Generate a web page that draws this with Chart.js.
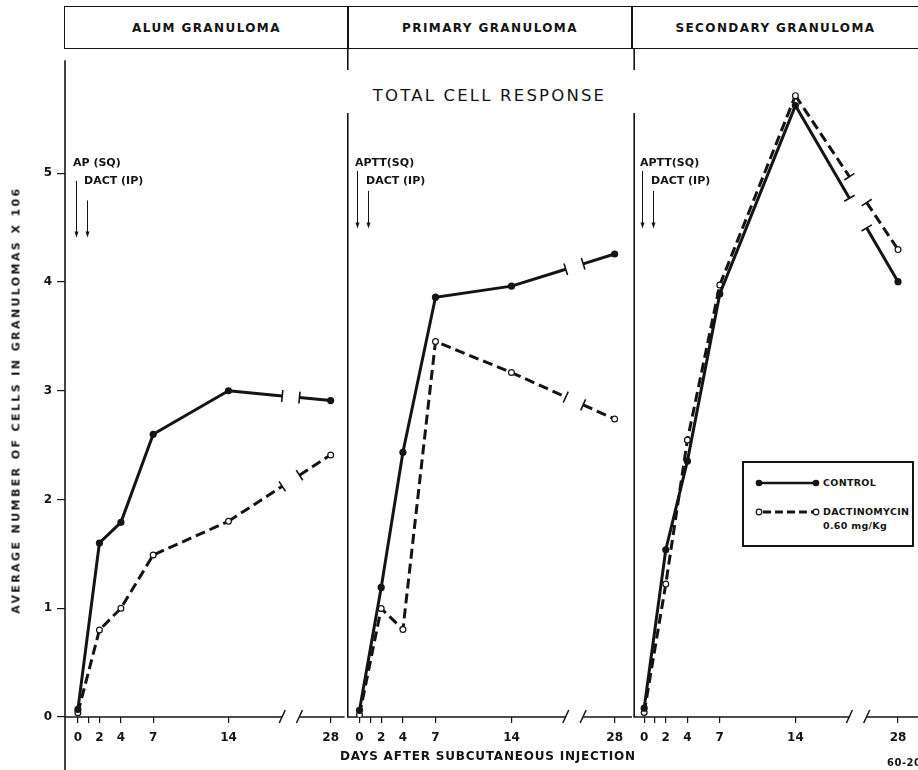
<!DOCTYPE html>
<html>
<head>
<meta charset="utf-8">
<script src="https://cdn.jsdelivr.net/npm/chart.js@4.4.0/dist/chart.umd.min.js"></script>
<style>
html,body{margin:0;padding:0;background:#fff;}
#wrap{position:relative;width:918px;height:770px;overflow:hidden;background:#fff;font-family:"DejaVu Sans",sans-serif;color:#141414;}
canvas{position:absolute;}
.t{position:absolute;white-space:nowrap;font-weight:bold;line-height:1;}
#header{position:absolute;left:64px;top:6px;width:900px;height:41px;border-top:1.5px solid #141414;border-bottom:1.5px solid #141414;border-left:1.5px solid #141414;}
.hcell{position:absolute;top:0;height:41px;display:flex;align-items:center;justify-content:center;font-weight:bold;font-size:12px;letter-spacing:1.4px;}
.vdiv{position:absolute;top:0;width:1.5px;height:41px;background:#141414;}
#title{position:absolute;left:347px;width:285px;top:86px;text-align:center;font-size:16.5px;letter-spacing:2.2px;white-space:nowrap;}
#ytitle{position:absolute;left:16px;top:400px;transform:translate(-50%,-50%) rotate(-90deg);font-weight:bold;font-size:11px;letter-spacing:2.4px;white-space:nowrap;}
#xtitle{position:absolute;left:340px;width:295px;top:749px;text-align:center;font-weight:bold;font-size:12px;letter-spacing:0.8px;white-space:nowrap;}
.ann{font-size:11px;}
#legend{position:absolute;left:742px;top:461px;width:168px;height:82px;border:2px solid #141414;background:#fff;}
#legend svg{position:absolute;left:0;top:0;}
.lt{position:absolute;font-weight:bold;font-size:9.5px;letter-spacing:0.3px;white-space:nowrap;line-height:1;}
</style>
</head>
<body>
<div id="wrap">
  <div id="header">
    <div class="hcell" style="left:0;width:283px;">ALUM GRANULOMA</div>
    <div class="vdiv" style="left:282px;"></div>
    <div class="hcell" style="left:283px;width:284px;">PRIMARY GRANULOMA</div>
    <div class="vdiv" style="left:566px;"></div>
    <div class="hcell" style="left:567px;width:287px;">SECONDARY GRANULOMA</div>
  </div>
  <div id="title">TOTAL CELL RESPONSE</div>

  <canvas id="c1" width="347" height="722" style="left:0;top:48px;"></canvas>
  <canvas id="c2" width="285" height="722" style="left:347px;top:48px;"></canvas>
  <canvas id="c3" width="286" height="722" style="left:632px;top:48px;"></canvas>

  <div id="ytitle">AVERAGE NUMBER OF CELLS IN GRANULOMAS X 106</div>
  <div id="xtitle">DAYS AFTER SUBCUTANEOUS INJECTION</div>
  <div class="t" style="left:887px;top:758px;font-size:10px;letter-spacing:0.5px;">60-20</div>

  <div class="t ann" style="left:73px;top:157px;">AP (SQ)</div>
  <div class="t ann" style="left:84px;top:175px;">DACT (IP)</div>
  <div class="t ann" style="left:355px;top:157px;">APTT(SQ)</div>
  <div class="t ann" style="left:366px;top:175px;">DACT (IP)</div>
  <div class="t ann" style="left:640px;top:157px;">APTT(SQ)</div>
  <div class="t ann" style="left:651px;top:175px;">DACT (IP)</div>

  <div id="legend">
    <svg width="168" height="82">
      <line x1="17" y1="20" x2="71" y2="20" stroke="#141414" stroke-width="2.5"/>
      <circle cx="15" cy="20" r="3.3" fill="#141414"/>
      <circle cx="72" cy="20" r="3.3" fill="#141414"/>
      <line x1="19" y1="49" x2="69" y2="49" stroke="#141414" stroke-width="3" stroke-dasharray="8,4"/>
      <circle cx="15" cy="49" r="2.8" fill="#fff" stroke="#141414" stroke-width="1.2"/>
      <circle cx="72" cy="49" r="2.8" fill="#fff" stroke="#141414" stroke-width="1.2"/>
    </svg>
    <div class="lt" style="left:79px;top:15px;">CONTROL</div>
    <div class="lt" style="left:79px;top:44px;">DACTINOMYCIN</div>
    <div class="lt" style="left:79px;top:58px;">0.60 mg/Kg</div>
  </div>
</div>

<script>
// ---- data ----
const days = [0, 2, 4, 7, 14, 28];
const alumControl      = [0.07, 1.60, 1.79, 2.60, 3.00, 2.91];
const alumDact         = [0.04, 0.80, 1.00, 1.49, 1.80, 2.41];
const primaryControl   = [0.06, 1.17, 2.39, 3.79, 3.89, 4.18];
const primaryDact      = [0.02, 0.98, 0.79, 3.39, 3.11, 2.69];
const secondaryControl = [0.08, 1.51, 2.31, 3.82, 5.52, 3.93];
const secondaryDact    = [0.04, 1.20, 2.50, 3.90, 5.61, 4.22];
const tickDays   = [0, 1, 2, 4, 7, 14, 28];
const tickLabels = ["0", "", "2", "4", "7", "14", "28"];
const yTicks     = [0, 1, 2, 3, 4, 5];

// ---- broken x axis: days after 14 are compressed ----
const BREAK_DAY = 14, COMPRESS = 9.5 / 14;
const BREAK_START = 19.0, BREAK_END = 20.6;
function axisPos(d){ return d <= BREAK_DAY ? d : BREAK_DAY + (d - BREAK_DAY) * COMPRESS; }

const INK = '#141414';
const Y_MAX = 6.04;

const panelPlugin = {
  id: 'panelPlugin',
  beforeDatasetsDraw(chart, args, opts) {
    const {ctx, chartArea: a, scales: {x, y}} = chart;
    const xs = x.getPixelForValue(BREAK_START), xe = x.getPixelForValue(BREAK_END);
    ctx.save();
    ctx.strokeStyle = INK; ctx.fillStyle = INK;
    ctx.lineWidth = 1.5;
    ctx.beginPath();
    ctx.moveTo(a.left, a.bottom); ctx.lineTo(xs, a.bottom);
    ctx.moveTo(xe, a.bottom); ctx.lineTo(a.right, a.bottom);
    ctx.stroke();
    [xs, xe].forEach(px => {
      ctx.beginPath(); ctx.moveTo(px - 3, a.bottom + 6); ctx.lineTo(px + 3, a.bottom - 7); ctx.stroke();
    });
    ctx.lineWidth = 1.6;
    ctx.beginPath();
    if (opts.yAxisLine) {
      ctx.moveTo(a.left, a.top); ctx.lineTo(a.left, chart.height);
    } else {
      ctx.moveTo(a.left + 0.8, a.top); ctx.lineTo(a.left + 0.8, a.top + 22);
      ctx.moveTo(a.left + 0.8, a.top + 65); ctx.lineTo(a.left + 0.8, a.bottom);
    }
    ctx.stroke();
    chart.data.datasets.forEach((ds, i) => {
      const meta = chart.getDatasetMeta(i);
      const n = meta.data.length;
      const p0 = meta.data[n - 2], p1 = meta.data[n - 1];
      const yAt = px => p0.y + (p1.y - p0.y) * (px - p0.x) / (p1.x - p0.x);
      ctx.lineWidth = ds.borderWidth;
      ctx.setLineDash(ds.borderDash || []);
      ctx.beginPath();
      ctx.moveTo(p0.x, p0.y); ctx.lineTo(xs, yAt(xs));
      ctx.moveTo(xe, yAt(xe)); ctx.lineTo(p1.x, p1.y);
      ctx.stroke();
      ctx.setLineDash([]);
      ctx.lineWidth = 1.6;
      const dx = p1.x - p0.x, dy = p1.y - p0.y, L = Math.hypot(dx, dy);
      const nx = -dy / L * 6, ny = dx / L * 6;
      [xs, xe].forEach(px => {
        const py = yAt(px);
        ctx.beginPath(); ctx.moveTo(px - nx, py - ny); ctx.lineTo(px + nx, py + ny); ctx.stroke();
      });
    });
    ctx.restore();
  },
  afterDraw(chart, args, opts) {
    const {ctx, scales: {x, y}} = chart;
    ctx.save();
    ctx.strokeStyle = INK; ctx.fillStyle = INK; ctx.lineWidth = 1;
    (opts.arrows || []).forEach(ar => {
      const px = Math.round(x.getPixelForValue(ar.day)) - 1.5;
      const top = y.getPixelForValue(ar.from), tip = y.getPixelForValue(ar.to);
      ctx.beginPath(); ctx.moveTo(px, top); ctx.lineTo(px, tip - 4); ctx.stroke();
      ctx.beginPath(); ctx.moveTo(px - 2, tip - 6); ctx.lineTo(px + 2, tip - 6); ctx.lineTo(px, tip); ctx.closePath(); ctx.fill();
    });
    ctx.restore();
  }
};

function makeDatasets(control, dact) {
  const lastSeg = c => c.p1DataIndex === days.length - 1 ? 'rgba(0,0,0,0)' : undefined;
  return [
    {
      label: 'CONTROL',
      data: days.map((d, i) => ({x: axisPos(d), y: control[i]})),
      borderColor: INK, borderWidth: 3, tension: 0,
      pointRadius: 3.6, pointBackgroundColor: INK, pointBorderColor: INK, pointBorderWidth: 0,
      segment: {borderColor: lastSeg}
    },
    {
      label: 'DACTINOMYCIN 0.60 mg/Kg',
      data: days.map((d, i) => ({x: axisPos(d), y: dact[i]})),
      borderColor: INK, borderWidth: 3, borderDash: [10, 5], tension: 0,
      pointRadius: 2.9, pointBackgroundColor: '#fff', pointBorderColor: INK, pointBorderWidth: 1.2,
      segment: {borderColor: lastSeg}
    }
  ];
}

function makeChart(id, control, dact, withY, xMin, xMax) {
  return new Chart(document.getElementById(id), {
    type: 'line',
    data: {datasets: makeDatasets(control, dact)},
    options: {
      responsive: false, animation: false, devicePixelRatio: 1,
      layout: {padding: 0, autoPadding: false},
      plugins: {
        legend: {display: false}, tooltip: {enabled: false},
        panelPlugin: {
          yAxisLine: withY,
          arrows: [{day: 0, from: 4.93, to: 4.41}, {day: 1, from: 4.75, to: 4.41}]
        }
      },
      scales: {
        x: {
          type: 'linear', min: xMin, max: xMax,
          afterBuildTicks: s => { s.ticks = tickDays.map(d => ({value: axisPos(d)})); },
          afterFit: s => { s.height = 53; },
          border: {display: false},
          grid: {drawOnChartArea: false, drawTicks: true, tickLength: 6, color: INK, lineWidth: 1.2},
          ticks: {
            autoSkip: false, maxRotation: 0, padding: 8, color: INK,
            font: {family: 'DejaVu Sans', size: 12, weight: 'bold'},
            callback: (v, i) => tickLabels[i]
          }
        },
        y: {
          display: withY, min: 0, max: Y_MAX,
          afterBuildTicks: s => { s.ticks = yTicks.map(v => ({value: v})); },
          afterFit: s => { s.width = withY ? 65 : 0; },
          border: {display: false},
          grid: {drawOnChartArea: false, drawTicks: true, tickLength: 8, color: INK, lineWidth: 1.2},
          ticks: {
            padding: 5, color: INK,
            font: {family: 'DejaVu Sans', size: 12, weight: 'bold'},
            callback: v => String(v)
          }
        }
      }
    },
    plugins: [panelPlugin]
  });
}

makeChart('c1', alumControl, alumDact, true, -1.2, 24.8);
makeChart('c2', primaryControl, primaryDact, false, -1.15, 25.1);
makeChart('c3', secondaryControl, secondaryDact, false, -1.0, 25.35);
</script>
</body>
</html>
